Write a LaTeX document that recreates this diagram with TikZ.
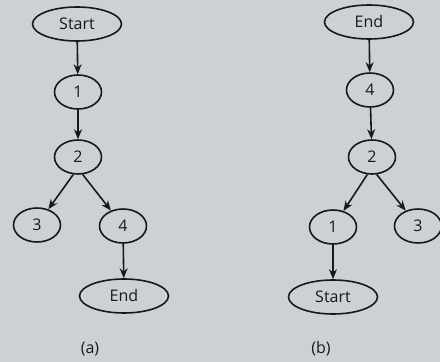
\documentclass[tikz,border=0pt]{standalone}
\usepackage{fontspec}
\setmainfont{Open Sans}
\usetikzlibrary{shapes.geometric,arrows.meta}
\definecolor{paper}{HTML}{CDD1D5}
\definecolor{ink}{HTML}{18181C}
\tikzset{
  vtx/.style={ellipse, draw=ink, line width=1.6pt, inner sep=0pt,
    minimum width=47pt, minimum height=34pt, text=ink, font=\fontsize{16}{18}\selectfont},
  term/.style={vtx, minimum width=89pt},
  flow/.style={draw=ink, line width=1.6pt, -{Stealth[length=10pt,width=8pt]}},
  sublabel/.style={text=ink, font=\fontsize{16}{18}\selectfont}
}
\begin{document}
\begin{tikzpicture}[x=1pt,y=1pt]
  \fill[paper] (0,0) rectangle (440,362);
  \useasboundingbox (0,0) rectangle (440,362);

  % (a) forward graph
  \node[term] (aS) at (77,338) {Start};
  \node[vtx]  (a1) at (78,270) {1};
  \node[vtx]  (a2) at (78,205) {2};
  \node[vtx]  (a3) at (37,137) {3};
  \node[vtx]  (a4) at (123,136) {4};
  \node[term] (aE) at (124,66) {End};
  \node[sublabel] (la) at (90,13) {(a)};
  \draw[flow] (aS) -- (a1);
  \draw[flow] (a1) -- (a2);
  \draw[flow] (a2.255) -- (a3);
  \draw[flow] (a2.285) -- (a4);
  \draw[flow] (a4) -- (aE);

  % (b) reversed graph
  \node[term] (bE) at (369,340) {End};
  \node[vtx]  (b4) at (370,272) {4};
  \node[vtx]  (b2) at (372,205) {2};
  \node[vtx]  (b1) at (333,135) {1};
  \node[vtx]  (b3) at (418,136) {3};
  \node[term] (bS) at (333,65) {Start};
  \node[sublabel] (lb) at (321,13) {(b)};
  \draw[flow] (bE) -- (b4);
  \draw[flow] (b4) -- (b2);
  \draw[flow] (b2.255) -- (b1);
  \draw[flow] (b2.285) -- (b3);
  \draw[flow] (b1) -- (bS);
\end{tikzpicture}
\end{document}
